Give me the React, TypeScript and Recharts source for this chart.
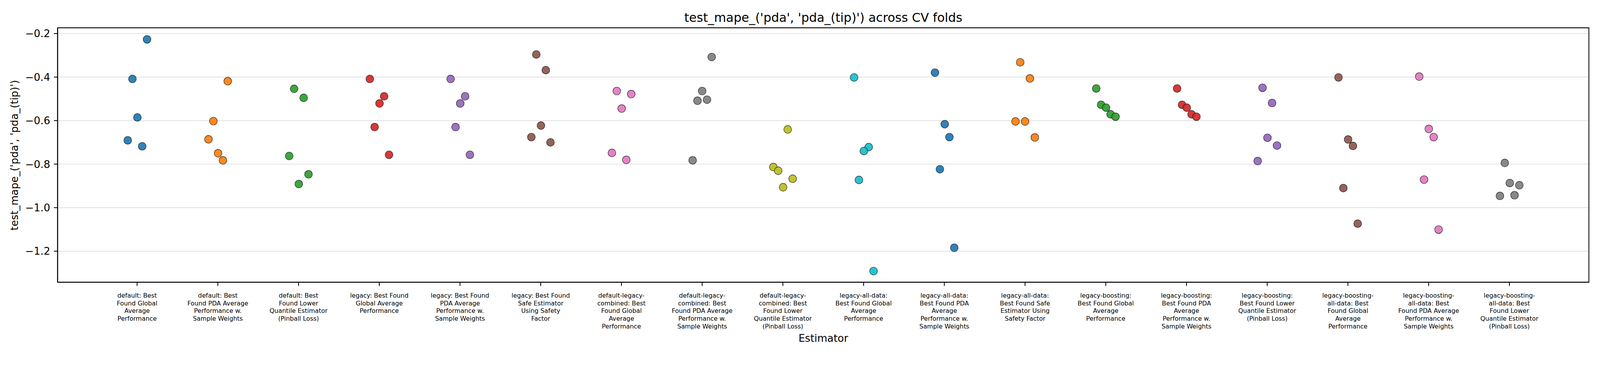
import React from 'react';
import { ScatterChart, Scatter, XAxis, YAxis, CartesianGrid, ReferenceArea } from 'recharts';

const title = "test_mape_('pda', 'pda_(tip)') across CV folds";
const xLabel = 'Estimator';
const yLabel = "test_mape_('pda', 'pda_(tip)')";

const categories: string[] = [
  'default: Best\nFound Global\nAverage\nPerformance',
  'default: Best\nFound PDA Average\nPerformance w.\nSample Weights',
  'default: Best\nFound Lower\nQuantile Estimator\n(Pinball Loss)',
  'legacy: Best Found\nGlobal Average\nPerformance',
  'legacy: Best Found\nPDA Average\nPerformance w.\nSample Weights',
  'legacy: Best Found\nSafe Estimator\nUsing Safety\nFactor',
  'default-legacy-\ncombined: Best\nFound Global\nAverage\nPerformance',
  'default-legacy-\ncombined: Best\nFound PDA Average\nPerformance w.\nSample Weights',
  'default-legacy-\ncombined: Best\nFound Lower\nQuantile Estimator\n(Pinball Loss)',
  'legacy-all-data:\nBest Found Global\nAverage\nPerformance',
  'legacy-all-data:\nBest Found PDA\nAverage\nPerformance w.\nSample Weights',
  'legacy-all-data:\nBest Found Safe\nEstimator Using\nSafety Factor',
  'legacy-boosting:\nBest Found Global\nAverage\nPerformance',
  'legacy-boosting:\nBest Found PDA\nAverage\nPerformance w.\nSample Weights',
  'legacy-boosting:\nBest Found Lower\nQuantile Estimator\n(Pinball Loss)',
  'legacy-boosting-\nall-data: Best\nFound Global\nAverage\nPerformance',
  'legacy-boosting-\nall-data: Best\nFound PDA Average\nPerformance w.\nSample Weights',
  'legacy-boosting-\nall-data: Best\nFound Lower\nQuantile Estimator\n(Pinball Loss)',
];

// fold scores per estimator (5 CV folds)
const foldValues: number[][] = [
  [-0.2266, -0.4086, -0.5852, -0.6906, -0.718],
  [-0.4188, -0.6023, -0.686, -0.75, -0.7828],
  [-0.4539, -0.4953, -0.7625, -0.8469, -0.8914],
  [-0.4086, -0.4883, -0.5211, -0.6297, -0.757],
  [-0.4086, -0.4883, -0.5211, -0.6297, -0.757],
  [-0.2961, -0.368, -0.6227, -0.6758, -0.7],
  [-0.4641, -0.4781, -0.5445, -0.7484, -0.7805],
  [-0.3078, -0.4641, -0.5039, -0.5086, -0.7828],
  [-0.6406, -0.8133, -0.8305, -0.8672, -0.9063],
  [-0.4016, -0.7219, -0.7398, -0.8727, -1.2914],
  [-0.3797, -0.6164, -0.6758, -0.8234, -1.1844],
  [-0.332, -0.4063, -0.6039, -0.6039, -0.6773],
  [-0.4523, -0.5273, -0.5406, -0.5711, -0.582],
  [-0.4523, -0.5273, -0.5406, -0.5711, -0.582],
  [-0.4492, -0.5188, -0.6789, -0.7148, -0.7859],
  [-0.4016, -0.6867, -0.7164, -0.9102, -1.0734],
  [-0.3977, -0.6383, -0.6758, -0.8711, -1.1008],
  [-0.7945, -0.8867, -0.8969, -0.9461, -0.943],
];

// horizontal strip jitter of each point (in category units)
const jitter: number[][] = [
  [0.123, -0.058, 0.003, -0.116, 0.063],
  [0.123, -0.055, -0.116, 0.003, 0.063],
  [-0.055, 0.063, -0.116, 0.123, 0.003],
  [-0.117, 0.06, 0.003, -0.058, 0.121],
  [-0.116, 0.063, 0.003, -0.055, 0.123],
  [-0.055, 0.063, 0.003, -0.116, 0.121],
  [-0.058, 0.121, 0.003, -0.118, 0.06],
  [0.118, 0.0, 0.06, -0.058, -0.118],
  [0.06, -0.118, -0.058, 0.121, 0.003],
  [-0.118, 0.063, 0.003, -0.058, 0.123],
  [-0.116, 0.005, 0.063, -0.055, 0.123],
  [-0.06, 0.06, -0.118, 0.0, 0.121],
  [-0.118, -0.058, 0.003, 0.06, 0.121],
  [-0.116, -0.055, 0.003, 0.063, 0.123],
  [-0.058, 0.06, 0.003, 0.121, -0.118],
  [-0.117, 0.002, 0.062, -0.057, 0.121],
  [-0.117, 0.002, 0.062, -0.057, 0.123],
  [-0.057, 0.005, 0.123, -0.117, 0.064],
];

const palette = ['#1f77b4', '#ff7f0e', '#2ca02c', '#d62728', '#9467bd', '#8c564b', '#e377c2', '#7f7f7f', '#bcbd22', '#17becf'];
const yTicks = [-1.2, -1.0, -0.8, -0.6, -0.4, -0.2];
const xDomain: [number, number] = [-0.985, 17.985];
const yDomain: [number, number] = [-1.3427, -0.1735];

// layout in screenshot pixels
const W = 4320;
const H = 960;
const FONT = 'DejaVu Sans';

const xTicks = categories.map((_, i) => i);

function pageScale(): number {
  if (typeof window === 'undefined') return 1;
  const a = window.innerWidth > 0 ? window.innerWidth / W : 1;
  const b = window.devicePixelRatio > 0 ? 1 / window.devicePixelRatio : 1;
  const k = Math.min(a, b, 1);
  if (!isFinite(k) || k < 0.3) return 1;
  return k;
}

const XTick = (props: any) => {
  const { x, y, payload } = props;
  const idx = Math.round(payload.value);
  const lines = (categories[idx] || '').split('\n');
  return (
    <text x={x} y={y} textAnchor="middle" fontSize={16.7} fontFamily={FONT} fill="#000">
      {lines.map((l, i) => (
        <tspan key={i} x={x} dy={i === 0 ? 32 : 20.65}>
          {l}
        </tspan>
      ))}
    </text>
  );
};

const fmtY = (v: number) => (v < 0 ? '\u2212' : '') + Math.abs(v).toFixed(1);

export default function App() {
  const k = pageScale();
  return (
    <div
      style={{
        position: 'relative',
        width: W * k,
        height: H * k,
        overflow: 'hidden',
        marginLeft: -8,
        marginTop: -8,
        marginBottom: -8,
      }}
    >
      <div
        style={{
          position: 'absolute',
          left: 0,
          top: 0,
          width: W,
          height: H,
          transform: `scale(${k})`,
          transformOrigin: '0 0',
          background: '#fff',
        }}
      >
        <ScatterChart width={W} height={H} margin={{ top: 75, right: 30, bottom: 138, left: 55.5 }}>
          <CartesianGrid vertical={false} stroke="#e0e0e0" strokeWidth={2} />
          <XAxis
            type="number"
            dataKey="x"
            domain={xDomain}
            ticks={xTicks}
            interval={0}
            allowDataOverflow
            height={60}
            stroke="#000"
            axisLine={{ stroke: '#000', strokeWidth: 2.2 }}
            tickLine={{ stroke: '#000', strokeWidth: 2.2 }}
            tickSize={10}
            tickMargin={0}
            tick={<XTick />}
          />
          <YAxis
            type="number"
            dataKey="y"
            domain={yDomain}
            ticks={yTicks}
            interval={0}
            allowDataOverflow
            width={100}
            stroke="#000"
            axisLine={{ stroke: '#000', strokeWidth: 2.2 }}
            tickLine={{ stroke: '#000', strokeWidth: 2.2 }}
            tickSize={10}
            tickMargin={10}
            tickFormatter={fmtY}
            tick={{ fill: '#000', fontSize: 27.8, fontFamily: FONT }}
          />
          {categories.map((c, ci) => {
            const data = foldValues[ci].map((v, j) => ({ x: ci + jitter[ci][j], y: v }));
            const color = palette[ci % palette.length];
            return (
              <Scatter
                key={ci}
                name={c}
                data={data}
                isAnimationActive={false}
                shape={(p: any) => (
                  <circle
                    cx={p.cx}
                    cy={p.cy}
                    r={10.5}
                    fill={color}
                    fillOpacity={0.92}
                    stroke="#1a1a1a"
                    strokeWidth={1.2}
                  />
                )}
              />
            );
          })}
          <ReferenceArea
            x1={xDomain[0]}
            x2={xDomain[1]}
            y1={yDomain[0]}
            y2={yDomain[1]}
            fill="none"
            fillOpacity={0}
            stroke="#000"
            strokeWidth={2.2}
            ifOverflow="visible"
          />
        </ScatterChart>
        <svg
          width={W}
          height={H}
          style={{ position: 'absolute', left: 0, top: 0, pointerEvents: 'none' }}
        >
          <text x={2223} y={59} textAnchor="middle" fontSize={33.3} fontFamily={FONT} fill="#000">
            {title}
          </text>
          <text x={2223} y={923} textAnchor="middle" fontSize={27.8} fontFamily={FONT} fill="#000">
            {xLabel}
          </text>
          <text
            x={0}
            y={0}
            transform="translate(49, 419) rotate(-90)"
            textAnchor="middle"
            fontSize={27.8}
            fontFamily={FONT}
            fill="#000"
          >
            {yLabel}
          </text>
        </svg>
      </div>
    </div>
  );
}
